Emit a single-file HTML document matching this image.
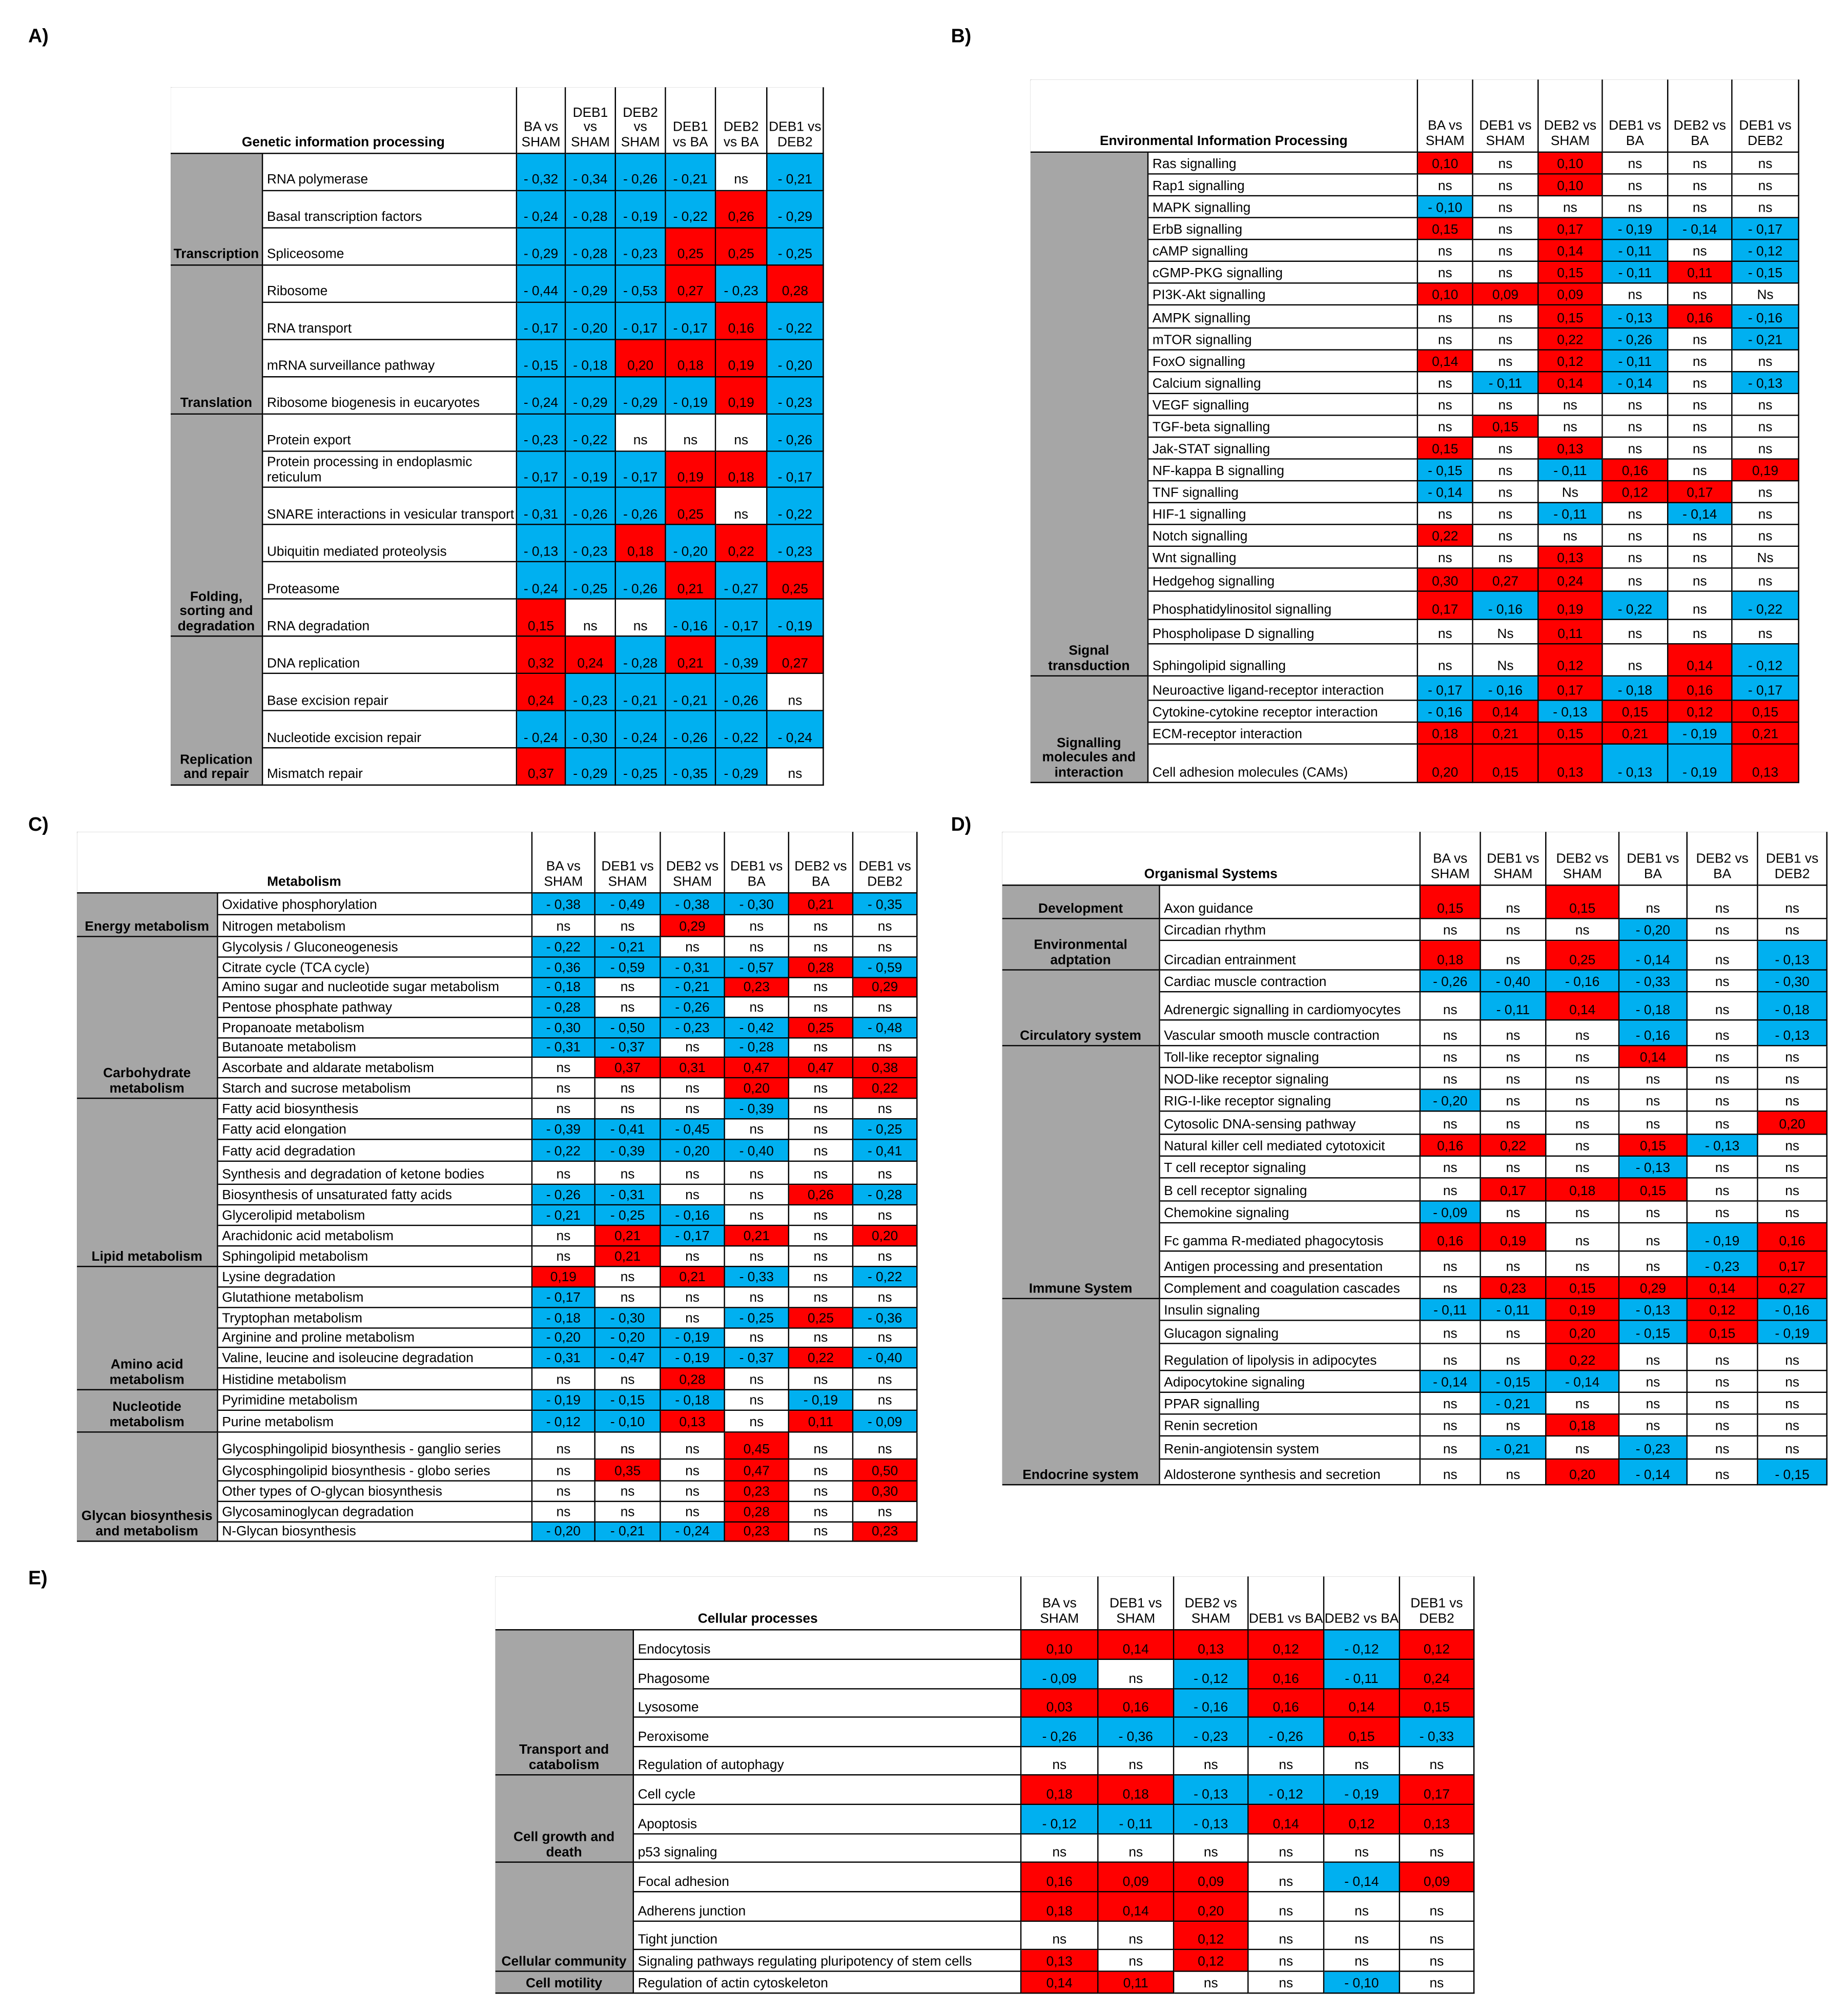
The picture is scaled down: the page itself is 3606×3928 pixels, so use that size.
<!DOCTYPE html>
<html><head><meta charset="utf-8">
<style>
html,body{margin:0;padding:0;width:3606px;height:3928px;overflow:hidden;background:#fff}
#root{position:absolute;left:0;top:0;width:1440px;height:1568px;transform-origin:0 0;transform:scale(2.5042,2.5051);font-family:"Liberation Sans",Arial,sans-serif;color:#000}
.c{position:absolute;box-sizing:border-box;border-right:1px solid #000;border-bottom:1px solid #000;font-size:10.5px;line-height:11.5px;display:flex;align-items:flex-end;overflow:hidden}
.v{justify-content:center;text-align:center;padding-bottom:1px}
.n{padding:0 0 1px 3px;background:#fff}
.g{background:#a6a6a6;justify-content:center;text-align:center;font-weight:bold;padding-bottom:1px}
.h{justify-content:center;text-align:center;padding-bottom:2px;background:#fff}
.t{font-weight:bold}
.lbl{position:absolute;font-weight:bold;font-size:15px}
.frame{position:absolute;box-sizing:border-box;border-left:1px solid #000;border-top:1px solid #000}
</style></head>
<body>
<div id="root">
<div class="lbl" style="left:22px;top:20px">A)</div>
<div class="lbl" style="left:741px;top:20px">B)</div>
<div class="lbl" style="left:22px;top:634px">C)</div>
<div class="lbl" style="left:741px;top:634px">D)</div>
<div class="lbl" style="left:22px;top:1221px">E)</div>
</div>
<script>
const headers=["BA vs SHAM","DEB1 vs SHAM","DEB2 vs SHAM","DEB1 vs BA","DEB2 vs BA","DEB1 vs DEB2"];

const namesA=["RNA polymerase","Basal transcription factors","Spliceosome","Ribosome","RNA transport","mRNA surveillance pathway","Ribosome biogenesis in eucaryotes","Protein export","Protein processing in endoplasmic reticulum","SNARE interactions in vesicular transport","Ubiquitin mediated proteolysis","Proteasome","RNA degradation","DNA replication","Base excision repair","Nucleotide excision repair","Mismatch repair"];
const catsA=[["Transcription",0,2],["Translation",3,6],["Folding, sorting and degradation",7,12],["Replication and repair",13,16]];
const valsA=[
["-0,32","-0,34","-0,26","-0,21","ns","-0,21"],
["-0,24","-0,28","-0,19","-0,22","0,26","-0,29"],
["-0,29","-0,28","-0,23","0,25","0,25","-0,25"],
["-0,44","-0,29","-0,53","0,27","-0,23","0,28"],
["-0,17","-0,20","-0,17","-0,17","0,16","-0,22"],
["-0,15","-0,18","0,20","0,18","0,19","-0,20"],
["-0,24","-0,29","-0,29","-0,19","0,19","-0,23"],
["-0,23","-0,22","ns","ns","ns","-0,26"],
["-0,17","-0,19","-0,17","0,19","0,18","-0,17"],
["-0,31","-0,26","-0,26","0,25","ns","-0,22"],
["-0,13","-0,23","0,18","-0,20","0,22","-0,23"],
["-0,24","-0,25","-0,26","0,21","-0,27","0,25"],
["0,15","ns","ns","-0,16","-0,17","-0,19"],
["0,32","0,24","-0,28","0,21","-0,39","0,27"],
["0,24","-0,23","-0,21","-0,21","-0,26","ns"],
["-0,24","-0,30","-0,24","-0,26","-0,22","-0,24"],
["0,37","-0,29","-0,25","-0,35","-0,29","ns"]];

const namesB=["Ras signalling","Rap1 signalling","MAPK signalling","ErbB signalling","cAMP signalling","cGMP-PKG signalling","PI3K-Akt signalling","AMPK signalling","mTOR signalling","FoxO signalling","Calcium signalling","VEGF signalling","TGF-beta signalling","Jak-STAT signalling","NF-kappa B signalling","TNF signalling","HIF-1 signalling","Notch signalling","Wnt signalling","Hedgehog signalling","Phosphatidylinositol signalling","Phospholipase D signalling","Sphingolipid signalling","Neuroactive ligand-receptor interaction","Cytokine-cytokine receptor interaction","ECM-receptor interaction","Cell adhesion molecules (CAMs)"];
const catsB=[["Signal transduction",0,22],["Signalling molecules and interaction",23,26]];
const valsB=[
["0,10","ns","0,10","ns","ns","ns"],
["ns","ns","0,10","ns","ns","ns"],
["-0,10","ns","ns","ns","ns","ns"],
["0,15","ns","0,17","-0,19","-0,14","-0,17"],
["ns","ns","0,14","-0,11","ns","-0,12"],
["ns","ns","0,15","-0,11","0,11","-0,15"],
["0,10","0,09","0,09","ns","ns","Ns"],
["ns","ns","0,15","-0,13","0,16","-0,16"],
["ns","ns","0,22","-0,26","ns","-0,21"],
["0,14","ns","0,12","-0,11","ns","ns"],
["ns","-0,11","0,14","-0,14","ns","-0,13"],
["ns","ns","ns","ns","ns","ns"],
["ns","0,15","ns","ns","ns","ns"],
["0,15","ns","0,13","ns","ns","ns"],
["-0,15","ns","-0,11","0,16","ns","0,19"],
["-0,14","ns","Ns","0,12","0,17","ns"],
["ns","ns","-0,11","ns","-0,14","ns"],
["0,22","ns","ns","ns","ns","ns"],
["ns","ns","0,13","ns","ns","Ns"],
["0,30","0,27","0,24","ns","ns","ns"],
["0,17","-0,16","0,19","-0,22","ns","-0,22"],
["ns","Ns","0,11","ns","ns","ns"],
["ns","Ns","0,12","ns","0,14","-0,12"],
["-0,17","-0,16","0,17","-0,18","0,16","-0,17"],
["-0,16","0,14","-0,13","0,15","0,12","0,15"],
["0,18","0,21","0,15","0,21","-0,19","0,21"],
["0,20","0,15","0,13","-0,13","-0,19","0,13"]];

const namesC=["Oxidative phosphorylation","Nitrogen metabolism","Glycolysis / Gluconeogenesis","Citrate cycle (TCA cycle)","Amino sugar and nucleotide sugar metabolism","Pentose phosphate pathway","Propanoate metabolism","Butanoate metabolism","Ascorbate and aldarate metabolism","Starch and sucrose metabolism","Fatty acid biosynthesis","Fatty acid elongation","Fatty acid degradation","Synthesis and degradation of ketone bodies","Biosynthesis of unsaturated fatty acids","Glycerolipid metabolism","Arachidonic acid metabolism","Sphingolipid metabolism","Lysine degradation","Glutathione metabolism","Tryptophan metabolism","Arginine and proline metabolism","Valine, leucine and isoleucine degradation","Histidine metabolism","Pyrimidine metabolism","Purine metabolism","Glycosphingolipid biosynthesis - ganglio series","Glycosphingolipid biosynthesis - globo series","Other types of O-glycan biosynthesis","Glycosaminoglycan degradation","N-Glycan biosynthesis"];
const catsC=[["Energy metabolism",0,1],["Carbohydrate metabolism",2,9],["Lipid metabolism",10,17],["Amino acid metabolism",18,23],["Nucleotide metabolism",24,25],["Glycan biosynthesis and metabolism",26,30]];
const valsC=[
["-0,38","-0,49","-0,38","-0,30","0,21","-0,35"],
["ns","ns","0,29","ns","ns","ns"],
["-0,22","-0,21","ns","ns","ns","ns"],
["-0,36","-0,59","-0,31","-0,57","0,28","-0,59"],
["-0,18","ns","-0,21","0,23","ns","0,29"],
["-0,28","ns","-0,26","ns","ns","ns"],
["-0,30","-0,50","-0,23","-0,42","0,25","-0,48"],
["-0,31","-0,37","ns","-0,28","ns","ns"],
["ns","0,37","0,31","0,47","0,47","0,38"],
["ns","ns","ns","0,20","ns","0,22"],
["ns","ns","ns","-0,39","ns","ns"],
["-0,39","-0,41","-0,45","ns","ns","-0,25"],
["-0,22","-0,39","-0,20","-0,40","ns","-0,41"],
["ns","ns","ns","ns","ns","ns"],
["-0,26","-0,31","ns","ns","0,26","-0,28"],
["-0,21","-0,25","-0,16","ns","ns","ns"],
["ns","0,21","-0,17","0,21","ns","0,20"],
["ns","0,21","ns","ns","ns","ns"],
["0,19","ns","0,21","-0,33","ns","-0,22"],
["-0,17","ns","ns","ns","ns","ns"],
["-0,18","-0,30","ns","-0,25","0,25","-0,36"],
["-0,20","-0,20","-0,19","ns","ns","ns"],
["-0,31","-0,47","-0,19","-0,37","0,22","-0,40"],
["ns","ns","0,28","ns","ns","ns"],
["-0,19","-0,15","-0,18","ns","-0,19","ns"],
["-0,12","-0,10","0,13","ns","0,11","-0,09"],
["ns","ns","ns","0,45","ns","ns"],
["ns","0,35","ns","0,47","ns","0,50"],
["ns","ns","ns","0,23","ns","0,30"],
["ns","ns","ns","0,28","ns","ns"],
["-0,20","-0,21","-0,24","0,23","ns","0,23"]];

const namesD=["Axon guidance","Circadian rhythm","Circadian entrainment","Cardiac muscle contraction","Adrenergic signalling in cardiomyocytes","Vascular smooth muscle contraction","Toll-like receptor signaling","NOD-like receptor signaling","RIG-I-like receptor signaling","Cytosolic DNA-sensing pathway","Natural killer cell mediated cytotoxicit","T cell receptor signaling","B cell receptor signaling","Chemokine signaling","Fc gamma R-mediated phagocytosis","Antigen processing and presentation","Complement and coagulation cascades","Insulin signaling","Glucagon signaling","Regulation of lipolysis in adipocytes","Adipocytokine signaling","PPAR signalling","Renin secretion","Renin-angiotensin system","Aldosterone synthesis and secretion"];
const catsD=[["Development",0,0],["Environmental adptation",1,2],["Circulatory system",3,5],["Immune System",6,16],["Endocrine system",17,24]];
const valsD=[
["0,15","ns","0,15","ns","ns","ns"],
["ns","ns","ns","-0,20","ns","ns"],
["0,18","ns","0,25","-0,14","ns","-0,13"],
["-0,26","-0,40","-0,16","-0,33","ns","-0,30"],
["ns","-0,11","0,14","-0,18","ns","-0,18"],
["ns","ns","ns","-0,16","ns","-0,13"],
["ns","ns","ns","0,14","ns","ns"],
["ns","ns","ns","ns","ns","ns"],
["-0,20","ns","ns","ns","ns","ns"],
["ns","ns","ns","ns","ns","0,20"],
["0,16","0,22","ns","0,15","-0,13","ns"],
["ns","ns","ns","-0,13","ns","ns"],
["ns","0,17","0,18","0,15","ns","ns"],
["-0,09","ns","ns","ns","ns","ns"],
["0,16","0,19","ns","ns","-0,19","0,16"],
["ns","ns","ns","ns","-0,23","0,17"],
["ns","0,23","0,15","0,29","0,14","0,27"],
["-0,11","-0,11","0,19","-0,13","0,12","-0,16"],
["ns","ns","0,20","-0,15","0,15","-0,19"],
["ns","ns","0,22","ns","ns","ns"],
["-0,14","-0,15","-0,14","ns","ns","ns"],
["ns","-0,21","ns","ns","ns","ns"],
["ns","ns","0,18","ns","ns","ns"],
["ns","-0,21","ns","-0,23","ns","ns"],
["ns","ns","0,20","-0,14","ns","-0,15"]];

const namesE=["Endocytosis","Phagosome","Lysosome","Peroxisome","Regulation of autophagy","Cell cycle","Apoptosis","p53 signaling","Focal adhesion","Adherens junction","Tight junction","Signaling pathways regulating pluripotency of stem cells","Regulation of actin cytoskeleton"];
const catsE=[["Transport and catabolism",0,4],["Cell growth and death",5,7],["Cellular community",8,11],["Cell motility",12,12]];
const valsE=[
["0,10","0,14","0,13","0,12","-0,12","0,12"],
["-0,09","ns","-0,12","0,16","-0,11","0,24"],
["0,03","0,16","-0,16","0,16","0,14","0,15"],
["-0,26","-0,36","-0,23","-0,26","0,15","-0,33"],
["ns","ns","ns","ns","ns","ns"],
["0,18","0,18","-0,13","-0,12","-0,19","0,17"],
["-0,12","-0,11","-0,13","0,14","0,12","0,13"],
["ns","ns","ns","ns","ns","ns"],
["0,16","0,09","0,09","ns","-0,14","0,09"],
["0,18","0,14","0,20","ns","ns","ns"],
["ns","ns","0,12","ns","ns","ns"],
["0,13","ns","0,12","ns","ns","ns"],
["0,14","0,11","ns","ns","-0,10","ns"]];

const root=document.getElementById('root');
function mk(cls,x,y,w,h,txt,bg){
  const d=document.createElement('div');
  d.className='c '+cls;
  d.style.left=x+'px';d.style.top=y+'px';d.style.width=w+'px';d.style.height=h+'px';
  if(bg)d.style.background=bg;
  d.textContent=txt;
  root.appendChild(d);return d;
}
function build(key,L,title,names,cats,vals){
  const X=L.x,Y=L.y;
  const fr=document.createElement('div');fr.className='frame';
  fr.style.left=X[0]+'px';fr.style.top=Y[0]+'px';
  fr.style.width=(X[X.length-1]-X[0])+'px';fr.style.height=(Y[Y.length-1]-Y[0])+'px';
  
  
  root.appendChild(fr);
  const t=mk('h t',X[0],Y[0],X[2]-X[0],Y[1]-Y[0],title);
  
  
  for(let j=0;j<6;j++){
    const h=mk('h',X[j+2],Y[0],X[j+3]-X[j+2],Y[1]-Y[0],headers[j]);
    
    
  }
  cats.forEach(c=>{
    const g=mk('g',X[0],Y[c[1]+1],X[1]-X[0],Y[c[2]+2]-Y[c[1]+1],c[0]);
    
    
  });
  names.forEach((nm,i)=>{
    const n=mk('n',X[1],Y[i+1],X[2]-X[1],Y[i+2]-Y[i+1],nm);
    
    
    for(let j=0;j<6;j++){
      const v=vals[i][j];let bg='#fff',txt=v;
      if(/^ns$/i.test(v)){bg='#fff';}
      else if(v[0]==='-'){bg='#00b0f0';txt='- '+v.slice(1);}
      else bg='#ff0000';
      const c=mk('v',X[j+2],Y[i+1],X[j+3]-X[j+2],Y[i+2]-Y[i+1],txt,bg);
      
      
    }
  });
}
function uni(a,b,n){const r=[];for(let i=0;i<=n;i++)r.push(+(a+(b-a)*i/n).toFixed(2));return r;}

build('a',{x:[133,205,403,441,480,519,558,598,642],y:[68].concat(uni(120,612,17))},"Genetic information processing",namesA,catsA,valsA);
build('b',{x:[803,895,1105,1148,1199,1249,1300,1350,1402],y:[62,119,136,153,170,187,204,221,238,256,273,290,307,324,341,358,375,392,409,426,443,461,483,502,527,546,563,580,610]},"Environmental Information Processing",namesB,catsB,valsB);
build('c',{x:[60,170,415,464,515,565,615,665,715],y:[648,696,713,730,746,762,777,793,809,824,840,856,872,888,905,923,939,955,971,987,1003,1019,1035,1050,1066,1083,1099,1116,1137,1154,1170,1186,1201]},"Metabolism",namesC,catsC,valsC);
build('d',{x:[781,904,1107,1154,1205,1262,1315,1370,1424],y:[648,690,716,733,756,773,795,815,832,849,866,884,901,918,936,953,975,995,1012,1029,1047,1068,1085,1102,1119,1137,1157]},"Organismal Systems",namesD,catsD,valsD);
build('e',{x:[386,494,796,856,915,973,1032,1091,1149],y:[1228,1270,1293,1316,1338,1361,1383,1406,1429,1451,1474,1497,1519,1536,1553]},"Cellular processes",namesE,catsE,valsE);
</script>
</body></html>
